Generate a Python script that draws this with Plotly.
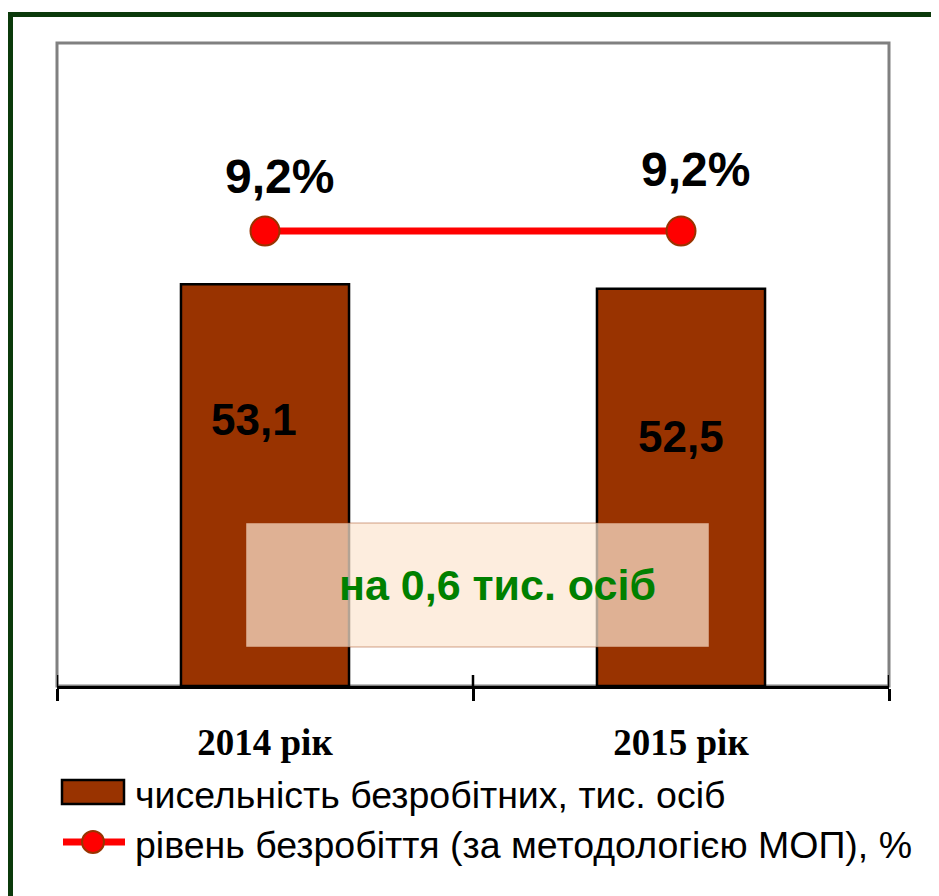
import plotly.graph_objects as go

categories = ["2014 рік", "2015 рік"]
unemployed_thousands = [53.1, 52.5]
unemployment_rate = [9.2, 9.2]
bar_labels = ["53,1", "52,5"]
rate_labels = ["9,2%", "9,2%"]
bar_series_name = "чисельність безробітних, тис. осіб"
line_series_name = "рівень безробіття (за методологією МОП), %"
note_text = "на 0,6 тис. осіб"

OFF = 8  # default body margin of the html page
W, H = 939, 896
L, R, T, B = 57 - OFF, 50 + OFF, 43 - OFF, 210 + OFF
PW, PH = W - L - R, H - T - B


def px(xs):
    """screen x (pixels) -> paper x"""
    return (xs - OFF - L) / PW


def py(ys):
    """screen y (pixels) -> paper y"""
    return (T + PH - (ys - OFF)) / PH


SANS = "Liberation Sans, Arial, sans-serif"
SERIF = "Liberation Serif, Times New Roman, serif"

fig = go.Figure()
fig.add_trace(go.Bar(
    x=categories, y=unemployed_thousands, width=0.404,
    marker=dict(color="#993300", line=dict(color="black", width=2.5)),
    name=bar_series_name, showlegend=False, xaxis="x", yaxis="y",
))
fig.add_trace(go.Scatter(
    x=categories, y=unemployment_rate, mode="lines+markers",
    line=dict(color="#FF0000", width=7),
    marker=dict(size=29, color="#FF0000", line=dict(color="#993300", width=2)),
    name=line_series_name, showlegend=False, xaxis="x", yaxis="y2",
))

annotations = []
for cat, lab, yv, xs in zip(categories, bar_labels, [35.2, 33.0], [-11, 0]):
    annotations.append(dict(x=cat, y=yv, xref="x", yref="y", text="<b>" + lab + "</b>",
                            showarrow=False, xshift=xs,
                            font=dict(family=SANS, size=44, color="black")))
for cat, lab, v, ys in zip(categories, rate_labels, unemployment_rate, [54, 61]):
    annotations.append(dict(x=cat, y=v, xref="x", yref="y2", text="<b>" + lab + "</b>",
                            showarrow=False, xshift=14, yshift=ys,
                            font=dict(family=SANS, size=48, color="black")))
annotations.append(dict(x=px(497), y=py(585), xref="paper", yref="paper",
                        xanchor="center", yanchor="middle",
                        text="<b>" + note_text + "</b>", showarrow=False,
                        font=dict(family=SANS, size=43, color="#008000")))
annotations.append(dict(x=px(133), y=py(795), xref="paper", yref="paper", text=bar_series_name,
                        xanchor="left", yanchor="middle", showarrow=False,
                        font=dict(family=SANS, size=37.5, color="black")))
annotations.append(dict(x=px(133), y=py(845), xref="paper", yref="paper", text=line_series_name,
                        xanchor="left", yanchor="middle", showarrow=False,
                        font=dict(family=SANS, size=37.5, color="black")))

shapes = [
    dict(type="rect", xref="paper", yref="paper", x0=0, y0=0, x1=1, y1=1,
         line=dict(color="#808080", width=3), layer="below"),
    dict(type="rect", xref="paper", yref="paper", x0=px(10.5), y0=py(920), x1=px(960), y1=py(14.5),
         line=dict(color="#0B3A0B", width=5), layer="above"),
    dict(type="rect", xref="paper", yref="paper", x0=px(246), x1=px(709), y0=py(647), y1=py(523),
         fillcolor="rgba(252,230,208,0.71)", line=dict(color="rgba(153,51,0,0.45)", width=1),
         layer="above"),
    dict(type="rect", xref="paper", yref="paper", x0=px(62), x1=px(124), y0=py(804), y1=py(780),
         fillcolor="#993300", line=dict(color="black", width=2.5), layer="above"),
    dict(type="line", xref="paper", yref="paper", x0=px(63), x1=px(125), y0=py(842), y1=py(842),
         line=dict(color="#FF0000", width=7), layer="above"),
    dict(type="circle", xref="paper", yref="paper", x0=px(82), x1=px(104), y0=py(853), y1=py(831),
         fillcolor="#FF0000", line=dict(color="#993300", width=2), layer="above"),
]
# inner half of the category boundary tick marks
for xb in [-0.5, 0.5, 1.5]:
    shapes.append(dict(type="line", xref="x", yref="paper", x0=xb, x1=xb, y0=0, y1=11 / PH,
                       line=dict(color="black", width=2.5), layer="above"))

fig.update_layout(
    width=W, height=H,
    margin=dict(l=L, r=R, t=T, b=B, pad=0),
    paper_bgcolor="white", plot_bgcolor="white",
    showlegend=False,
    xaxis=dict(type="category", categoryorder="array", categoryarray=categories,
               range=[-0.5, 1.5], tickson="boundaries", ticks="outside", ticklen=12,
               tickwidth=2.5, tickcolor="black", showline=True, linecolor="black", linewidth=3,
               showgrid=False, zeroline=False, ticklabelstandoff=22,
               tickprefix="<b>", ticksuffix="</b>",
               tickfont=dict(family=SERIF, size=37, color="black")),
    yaxis=dict(range=[0, 85], visible=False, showgrid=False, zeroline=False),
    yaxis2=dict(range=[0, 13], overlaying="y", visible=False, showgrid=False, zeroline=False),
    annotations=annotations,
    shapes=shapes,
)

fig.write_html("out.html")
